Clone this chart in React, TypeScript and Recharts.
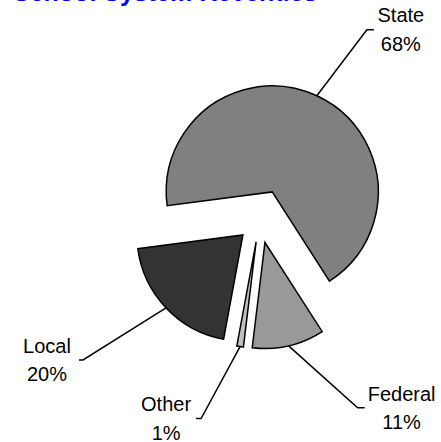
import { Cell, Pie, PieChart } from 'recharts'

const CATEGORIES = ['State', 'Federal', 'Other', 'Local']
const SHARES = [68, 11, 1, 20]
const COLORS = ['#808080', '#999999', '#c0c0c0', '#333333']

// how far each slice is pulled out from the pie centre, px
const EXPLODE = [30, 24, 23, 23]

// leader line: arc point -> bend (dx, dy), short tick, label centre offset from bend
const LEADERS = [
  { dx: 50, dy: -66, tick: 7, textDx: 34 },
  { dx: 69, dy: 62, tick: 7, textDx: 44 },
  { dx: -39, dy: 72, tick: -5, textDx: -35 },
  { dx: -83, dy: 52, tick: -4, textDx: -36 },
]

const WIDTH = 441
const HEIGHT = 442
const CX = 259.6
const CY = 219.1
const RADIUS = 106
const START_ANGLE = 187.5
const END_ANGLE = START_ANGLE - 360
const RADIAN = Math.PI / 180
const FONT = '"Liberation Sans", Arial, sans-serif'

const data = CATEGORIES.map((name, i) => ({ name, value: SHARES[i] }))
const total = SHARES.reduce((a, b) => a + b, 0)

const midAngles = SHARES.map((v, i) => {
  const before = SHARES.slice(0, i).reduce((a, b) => a + b, 0)
  return START_ANGLE - (360 * (before + v / 2)) / total
})

type LabelProps = {
  cx: number
  cy: number
  midAngle: number
  outerRadius: number
  index: number
  name: string
  percent: number
}

function makeLabel(slice: number) {
  return (props: LabelProps) => {
    const { cx, cy, midAngle, outerRadius, index, name, percent } = props
    if (index !== slice) return <g />
    const ax = cx + outerRadius * Math.cos(-midAngle * RADIAN)
    const ay = cy + outerRadius * Math.sin(-midAngle * RADIAN)
    const l = LEADERS[slice]
    const bx = ax + l.dx
    const by = ay + l.dy
    const tx = bx + l.textDx
    return (
      <g>
        <polyline
          points={`${ax},${ay} ${bx},${by} ${bx + l.tick},${by}`}
          fill="none"
          stroke="#000"
          strokeWidth={1.5}
        />
        <text x={tx} y={by - 7.3} textAnchor="middle" fontSize={20} fontFamily={FONT} fill="#000">
          {name}
        </text>
        <text x={tx} y={by + 21.2} textAnchor="middle" fontSize={20} fontFamily={FONT} fill="#000">
          {`${Math.round(percent * 100)}%`}
        </text>
      </g>
    )
  }
}

export default function App() {
  return (
    <div
      style={{
        position: 'absolute',
        left: 0,
        top: 0,
        width: WIDTH,
        height: HEIGHT,
        overflow: 'hidden',
        background: '#fff',
        fontFamily: FONT,
      }}
    >
      <div
        style={{
          position: 'absolute',
          left: 13,
          top: -20,
          fontSize: 25,
          lineHeight: '25px',
          fontWeight: 'bold',
          color: '#0000ff',
          whiteSpace: 'nowrap',
        }}
      >
        School System Revenues
      </div>
      <PieChart width={WIDTH} height={HEIGHT} margin={{ top: 0, right: 0, bottom: 0, left: 0 }}>
        {CATEGORIES.map((cat, i) => (
          <Pie
            key={cat}
            data={data}
            dataKey="value"
            nameKey="name"
            cx={CX + EXPLODE[i] * Math.cos(midAngles[i] * RADIAN)}
            cy={CY - EXPLODE[i] * Math.sin(midAngles[i] * RADIAN)}
            innerRadius={0}
            outerRadius={RADIUS}
            startAngle={START_ANGLE}
            endAngle={END_ANGLE}
            paddingAngle={0}
            label={makeLabel(i)}
            labelLine={false}
            isAnimationActive={false}
          >
            {data.map((entry, j) => (
              <Cell
                key={entry.name}
                fill={j === i ? COLORS[j] : 'none'}
                stroke={j === i ? '#000' : 'none'}
                strokeWidth={j === i ? 1.5 : 0}
              />
            ))}
          </Pie>
        ))}
      </PieChart>
    </div>
  )
}
